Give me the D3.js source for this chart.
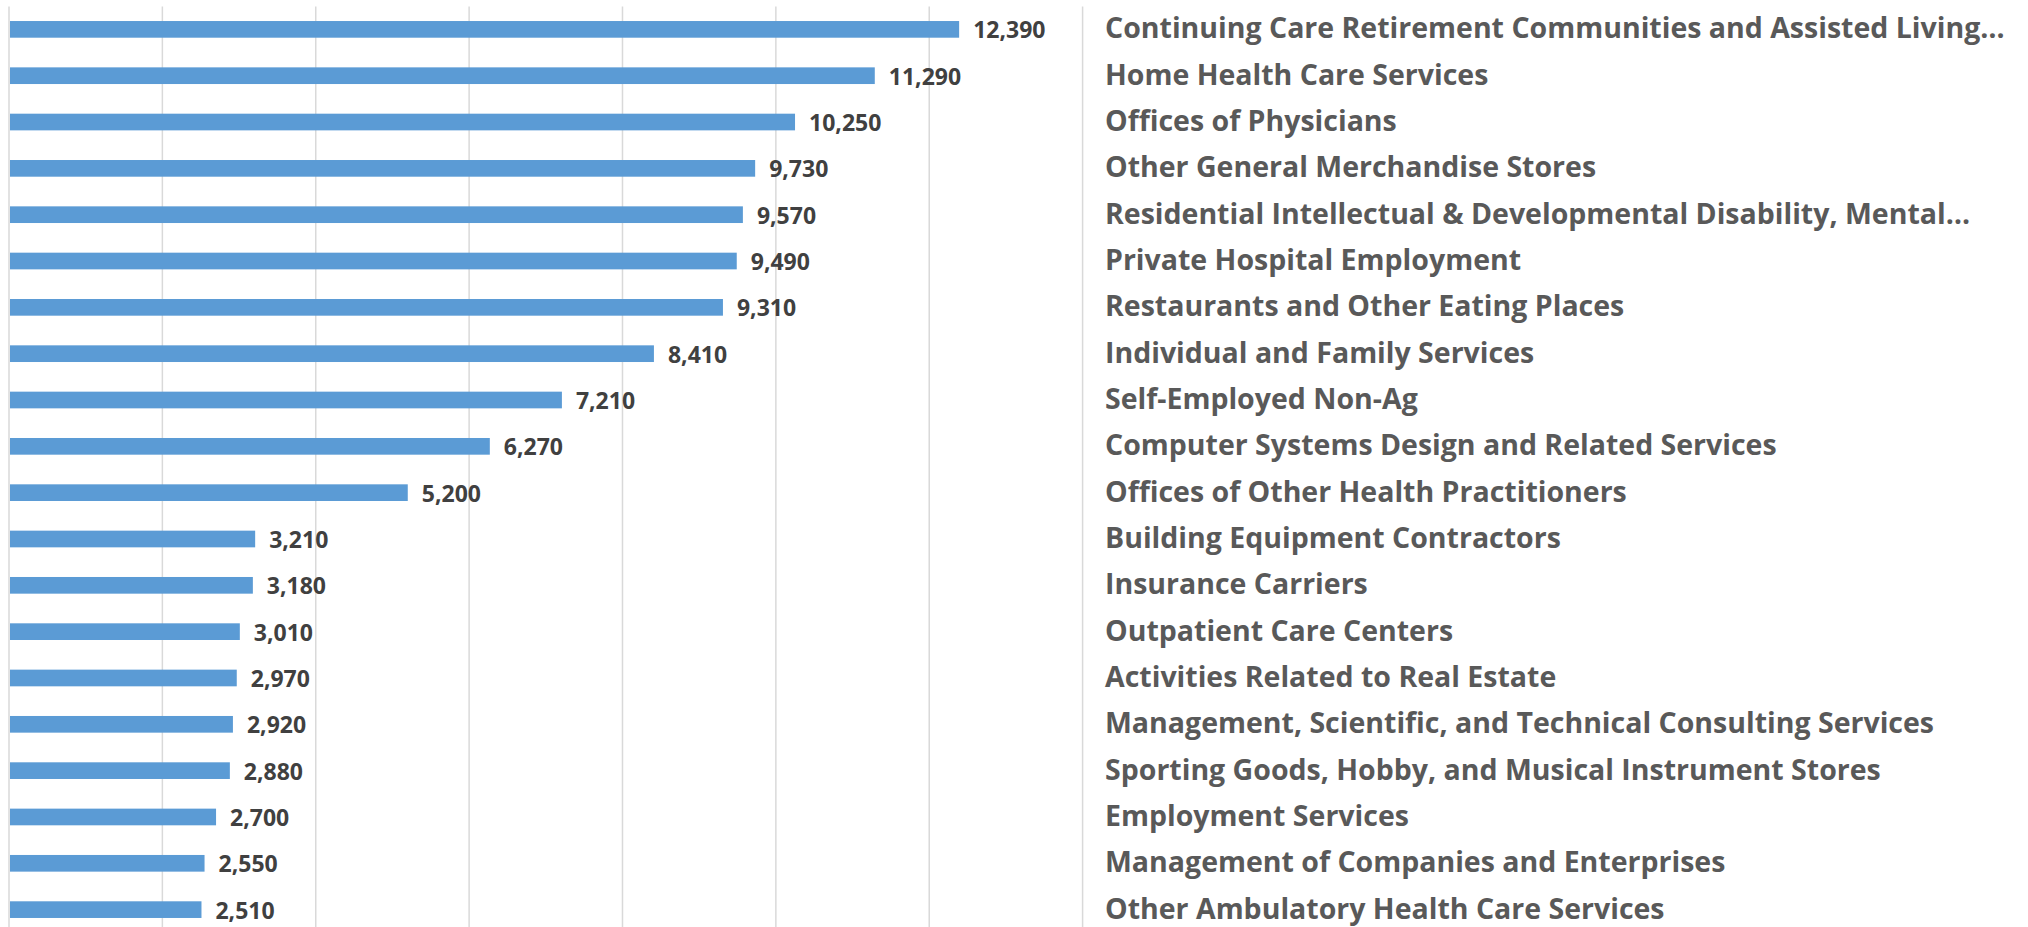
<!DOCTYPE html>
<html><head><meta charset="utf-8">
<script src="https://cdn.jsdelivr.net/npm/d3@7"></script>
<style>html,body{margin:0;padding:0;background:#fff;overflow:hidden}</style>
</head><body>
<svg id="chart" width="2028" height="927"></svg>
<script>
const categories = [
  "Continuing Care Retirement Communities and Assisted Living…",
  "Home Health Care Services",
  "Offices of Physicians",
  "Other General Merchandise Stores",
  "Residential Intellectual & Developmental Disability, Mental…",
  "Private Hospital Employment",
  "Restaurants and Other Eating Places",
  "Individual and Family Services",
  "Self-Employed Non-Ag",
  "Computer Systems Design and Related Services",
  "Offices of Other Health Practitioners",
  "Building Equipment Contractors",
  "Insurance Carriers",
  "Outpatient Care Centers",
  "Activities Related to Real Estate",
  "Management, Scientific, and Technical Consulting Services",
  "Sporting Goods, Hobby, and Musical Instrument Stores",
  "Employment Services",
  "Management of Companies and Enterprises",
  "Other Ambulatory Health Care Services"
];
const values = [12390, 11290, 10250, 9730, 9570, 9490, 9310, 8410, 7210, 6270, 5200, 3210, 3180, 3010, 2970, 2920, 2880, 2700, 2550, 2510];
const gridTicks = [0, 2000, 4000, 6000, 8000, 10000, 12000, 14000];

const svg = d3.select("#chart");
const x = d3.scaleLinear().domain([0, 14000]).range([9, 1082.6]);
const y = d3.scaleBand().domain(categories).range([6.2, 932.8]).paddingInner(0.64).paddingOuter(0.32);

svg.append("g").selectAll("line").data(gridTicks).join("line")
  .attr("x1", d => x(d)).attr("x2", d => x(d))
  .attr("y1", 6.5).attr("y2", 927)
  .attr("stroke", "#D9D9D9").attr("stroke-width", 1.5);

svg.append("g").selectAll("rect").data(values).join("rect")
  .attr("x", x(0) + 1)
  .attr("y", (d, i) => y(categories[i]))
  .attr("width", d => x(d) - x(0) - 1)
  .attr("height", y.bandwidth())
  .attr("fill", "#5B9BD5");

const fmt = d3.format(",");
svg.append("g").selectAll("text").data(values).join("text")
  .attr("x", d => x(d) + 14)
  .attr("y", (d, i) => y(categories[i]) + y.bandwidth() / 2)
  .attr("dominant-baseline", "central")
  .attr("font-family", "'Open Sans', sans-serif")
  .attr("font-weight", "bold")
  .attr("font-size", 23)
  .attr("fill", "#404040")
  .text(d => fmt(d));

svg.append("g").selectAll("text").data(categories).join("text")
  .attr("x", 1105)
  .attr("y", d => y(d) + y.bandwidth() / 2 - 2)
  .attr("dominant-baseline", "central")
  .attr("font-family", "'Open Sans', sans-serif")
  .attr("font-weight", "bold")
  .attr("font-size", 28.5)
  .attr("fill", "#595959")
  .text(d => d);
</script>
</body></html>
